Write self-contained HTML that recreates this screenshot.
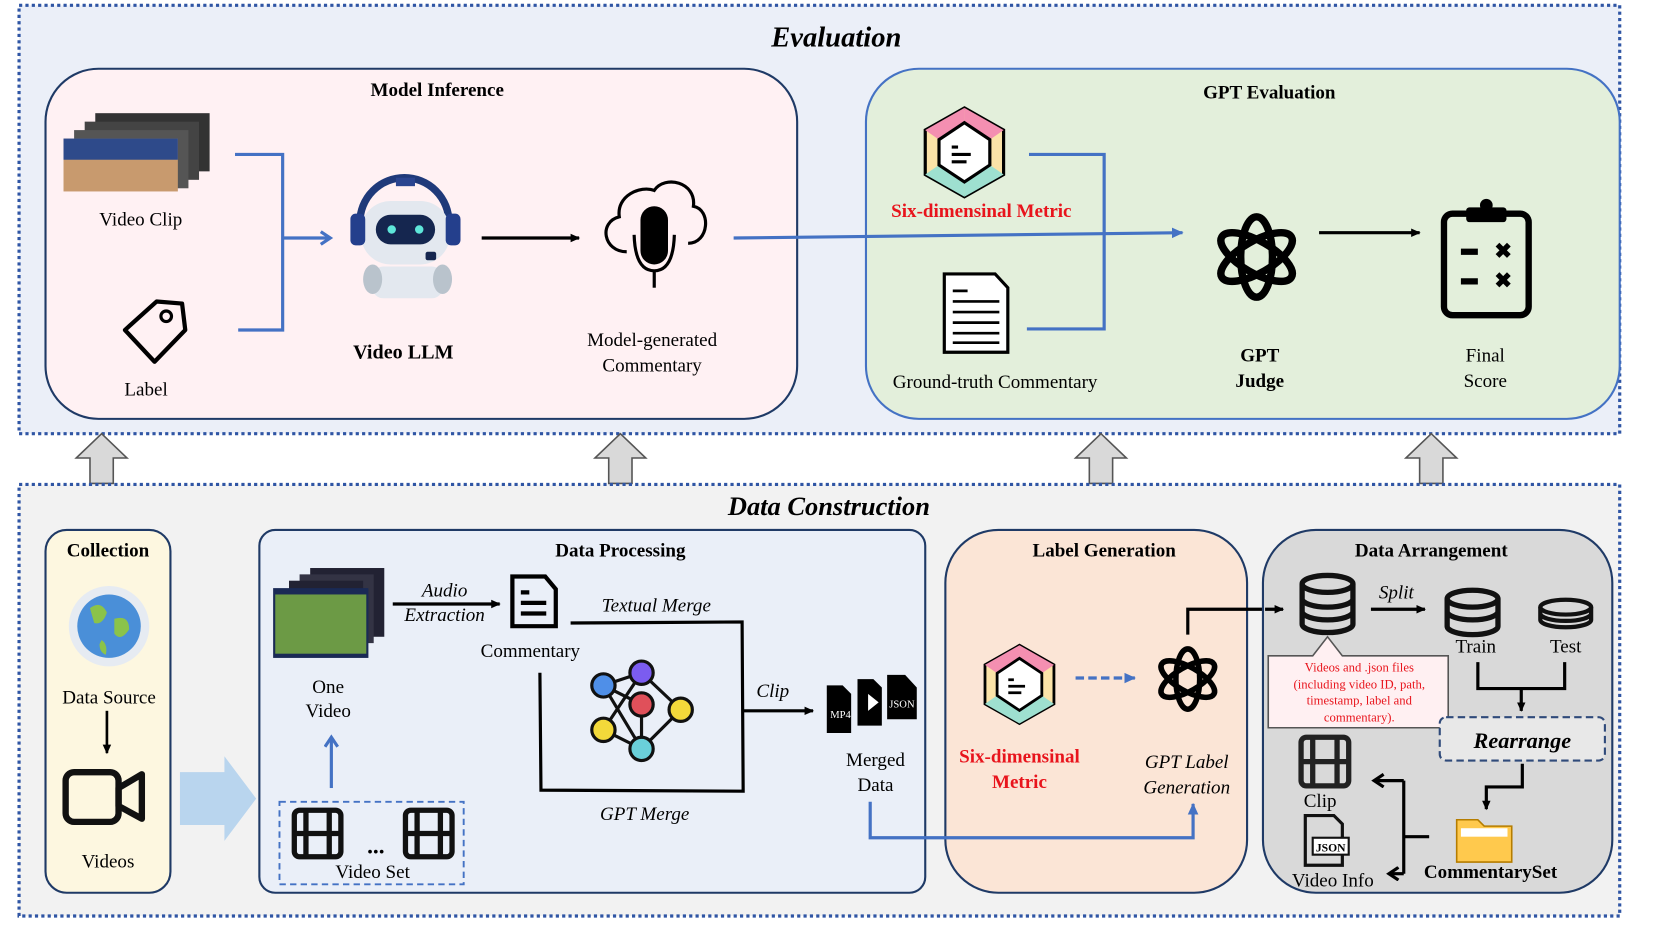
<!DOCTYPE html>
<html><head><meta charset="utf-8"><style>
html,body{margin:0;padding:0;background:#fff;width:1661px;height:934px;overflow:hidden}
svg{display:block}
text{font-family:"Liberation Serif",serif;}
.b{font-weight:bold}
.i{font-style:italic}
</style></head><body>
<svg width="1661" height="934" viewBox="0 0 1569 883" preserveAspectRatio="none" xmlns="http://www.w3.org/2000/svg">
<defs>
<marker id="ak" markerWidth="10" markerHeight="10" refX="8" refY="5" orient="auto" markerUnits="userSpaceOnUse"><path d="M0,1 L9,5 L0,9 Z" fill="#000"/></marker>
<marker id="ab" markerWidth="12" markerHeight="12" refX="10" refY="6" orient="auto" markerUnits="userSpaceOnUse"><path d="M0,1 L11,6 L0,11 Z" fill="#4472c4"/></marker>
<marker id="abo" markerWidth="14" markerHeight="14" refX="10" refY="7" orient="auto" markerUnits="userSpaceOnUse"><path d="M1,1 L10,7 L1,13" fill="none" stroke="#4472c4" stroke-width="3"/></marker>
<marker id="ako" markerWidth="14" markerHeight="14" refX="10" refY="7" orient="auto" markerUnits="userSpaceOnUse"><path d="M1,1 L10,7 L1,13" fill="none" stroke="#000" stroke-width="3"/></marker>
</defs>
<!-- Evaluation -->
<rect x="18" y="5" width="1512" height="405" fill="#ebeff8" stroke="#2f55a4" stroke-width="3" stroke-dasharray="3,3"/>
<text x="790" y="44" font-size="27" class="b i" text-anchor="middle">Evaluation</text>
<rect x="43" y="65" width="710" height="331" rx="50" fill="#fff1f3" stroke="#1f3a66" stroke-width="2"/>
<text x="413" y="91" font-size="18" class="b" text-anchor="middle">Model Inference</text>
<rect x="818" y="65" width="712" height="331" rx="50" fill="#e3efdb" stroke="#4472c4" stroke-width="2"/>
<text x="1199" y="93" font-size="18" class="b" text-anchor="middle">GPT Evaluation</text>
<g>
<rect x="90" y="107" width="108" height="55" fill="#333"/>
<rect x="80" y="115" width="108" height="55" fill="#444"/>
<rect x="70" y="123" width="108" height="55" fill="#555"/>
<rect x="60" y="131" width="108" height="50" fill="#c89a6e"/>
<rect x="60" y="131" width="108" height="20" fill="#2e4a8a"/>
</g>
<text x="133" y="213" font-size="18" text-anchor="middle">Video Clip</text>
<path d="M118,312 L148,285 L172,287 L175,312 L146,342 Z" fill="none" stroke="#000" stroke-width="4" stroke-linejoin="round"/>
<circle cx="157" cy="299" r="5" fill="none" stroke="#000" stroke-width="3"/>
<text x="138" y="374" font-size="18" text-anchor="middle">Label</text>
<path d="M222,146 L267,146 L267,312 L225,312" fill="none" stroke="#4472c4" stroke-width="3"/>
<line x1="267" y1="225" x2="312" y2="225" stroke="#4472c4" stroke-width="3" marker-end="url(#abo)"/>
<path d="M340,210 A42,42 0 0 1 424,210" fill="none" stroke="#1f3a7a" stroke-width="7"/>
<rect x="374" y="168" width="18" height="8" fill="#2a4590"/>
<rect x="341" y="190" width="84" height="60" rx="28" fill="#e3e8ef"/>
<rect x="331" y="202" width="14" height="30" rx="5" fill="#243f8c"/>
<rect x="421" y="202" width="14" height="30" rx="5" fill="#243f8c"/>
<rect x="355" y="203" width="56" height="28" rx="14" fill="#15264f"/>
<circle cx="370" cy="217" r="4" fill="#5ee6d9"/><circle cx="396" cy="217" r="4" fill="#5ee6d9"/>
<rect x="402" y="238" width="10" height="8" rx="2" fill="#15264f"/>
<rect x="352" y="252" width="66" height="30" rx="10" fill="#e3e8ef"/>
<ellipse cx="352" cy="264" rx="9" ry="14" fill="#b9c3cc"/><ellipse cx="418" cy="264" rx="9" ry="14" fill="#b9c3cc"/>
<text x="381" y="339" font-size="19" class="b" text-anchor="middle">Video LLM</text>
<line x1="455" y1="225" x2="547" y2="225" stroke="#000" stroke-width="3" marker-end="url(#ak)"/>
<path d="M592,238 C570,238 565,210 585,205 C582,185 605,175 618,180 C628,165 658,172 655,195 C672,198 670,230 650,230" fill="none" stroke="#000" stroke-width="3"/>
<rect x="605" y="195" width="26" height="55" rx="13" fill="#000"/>
<path d="M599,222 Q600,256 618,256 Q636,256 637,222" fill="none" stroke="#000" stroke-width="3"/>
<line x1="618" y1="256" x2="618" y2="272" stroke="#000" stroke-width="3"/>
<text x="616" y="327" font-size="18" text-anchor="middle">Model-generated</text>
<text x="616" y="351" font-size="18" text-anchor="middle">Commentary</text>
<line x1="693" y1="225" x2="1117" y2="220" stroke="#4472c4" stroke-width="3" marker-end="url(#ab)"/>
<g transform="translate(911,144)">
<polygon points="0,-42 37,-21 37,21 0,42 -37,21 -37,-21" fill="#fbe3a8" stroke="#000" stroke-width="3"/>
<polygon points="0,-42 37,-21 24,-12 0,-28" fill="#f48fb1"/><polygon points="0,42 37,21 24,12 0,28" fill="#9ee0d0"/><polygon points="0,42 -37,21 -24,12 0,28" fill="#9ee0d0"/><polygon points="0,-42 -37,-21 -24,-12 0,-28" fill="#f48fb1"/>
<polygon points="0,-28 24,-12 24,12 0,28 -24,12 -24,-12" fill="#fff" stroke="#000" stroke-width="3"/>
<path d="M-12,-5 h6 M-12,2 h18 M-12,9 h14" stroke="#000" stroke-width="3"/>
</g>
<text x="927" y="205" font-size="18" class="b" fill="#e8141c" text-anchor="middle">Six-dimensinal Metric</text>
<path d="M972,146 L1043,146 L1043,311 L970,311" fill="none" stroke="#4472c4" stroke-width="3"/>
<path d="M892,259 L940,259 L952,272 L952,333 L892,333 Z" fill="#fff" stroke="#000" stroke-width="3"/>
<path d="M900,275 h14 M900,285 h44 M900,295 h44 M900,305 h44 M900,315 h44 M900,324 h44" stroke="#000" stroke-width="2.5"/>
<text x="940" y="367" font-size="18" text-anchor="middle">Ground-truth Commentary</text>
<g transform="translate(1187,243)" fill="none" stroke="#000" stroke-width="7">
<ellipse rx="15" ry="38"/>
<ellipse rx="15" ry="38" transform="rotate(60)"/>
<ellipse rx="15" ry="38" transform="rotate(120)"/>
</g>
<text x="1190" y="342" font-size="18" class="b" text-anchor="middle">GPT</text>
<text x="1190" y="366" font-size="18" class="b" text-anchor="middle">Judge</text>
<line x1="1246" y1="220" x2="1341" y2="220" stroke="#000" stroke-width="3" marker-end="url(#ak)"/>
<rect x="1364" y="202" width="80" height="96" rx="8" fill="none" stroke="#000" stroke-width="6"/>
<rect x="1385" y="196" width="38" height="14" rx="3" fill="#000"/><circle cx="1404" cy="194" r="6" fill="#000"/>
<path d="M1380,238 h16 M1380,266 h16" stroke="#000" stroke-width="6"/>
<text x="1420" y="244" font-size="20" class="b" text-anchor="middle">✖</text>
<text x="1420" y="272" font-size="20" class="b" text-anchor="middle">✖</text>
<text x="1403" y="342" font-size="18" text-anchor="middle">Final</text>
<text x="1403" y="366" font-size="18" text-anchor="middle">Score</text>
<g fill="#d9d9d9" stroke="#555" stroke-width="1.5">
<path d="M85,457 L85,433 L72,433 L96,410 L120,433 L107,433 L107,457 Z"/>
<path d="M575,457 L575,433 L562,433 L586,410 L610,433 L597,433 L597,457 Z"/>
<path d="M1029,457 L1029,433 L1016,433 L1040,410 L1064,433 L1051,433 L1051,457 Z"/>
<path d="M1341,457 L1341,433 L1328,433 L1352,410 L1376,433 L1363,433 L1363,457 Z"/>
</g>
<rect x="18" y="458" width="1512" height="408" fill="#f2f2f2" stroke="#2f55a4" stroke-width="3" stroke-dasharray="3,3"/>
<text x="783" y="487" font-size="25" class="b i" text-anchor="middle">Data Construction</text>
<rect x="43" y="501" width="118" height="343" rx="20" fill="#fdf7e0" stroke="#1f3a66" stroke-width="2"/>
<text x="102" y="526" font-size="18" class="b" text-anchor="middle">Collection</text>
<circle cx="103" cy="592" r="38" fill="#e6ebf2"/>
<circle cx="103" cy="592" r="30" fill="#4a8fd8"/>
<path d="M85,575 q10,-8 16,4 q-4,12 -12,10 z M108,585 q14,-4 14,10 q-8,12 -14,4 z M96,605 q6,4 4,14 q-6,-2 -6,-10z" fill="#8bc34a"/>
<text x="103" y="665" font-size="18" text-anchor="middle">Data Source</text>
<line x1="101" y1="672" x2="101" y2="712" stroke="#000" stroke-width="2.5" marker-end="url(#ak)"/>
<rect x="62" y="730" width="50" height="47" rx="8" fill="none" stroke="#111" stroke-width="6"/>
<path d="M112,745 L134,732 L134,774 L112,762 Z" fill="none" stroke="#111" stroke-width="6" stroke-linejoin="round"/>
<text x="102" y="820" font-size="18" text-anchor="middle">Videos</text>
<path d="M170,730 L212,730 L212,715 L242,755 L212,795 L212,780 L170,780 Z" fill="#b9d5ee"/>
<rect x="245" y="501" width="629" height="343" rx="15" fill="#eaeff8" stroke="#1f3a66" stroke-width="2"/>
<text x="586" y="526" font-size="18" class="b" text-anchor="middle">Data Processing</text>
<g>
<rect x="293" y="537" width="70" height="65" fill="#223"/>
<rect x="283" y="543" width="70" height="65" fill="#334"/>
<rect x="273" y="549" width="70" height="65" fill="#223"/>
<rect x="258" y="556" width="90" height="66" fill="#1a2a55"/>
<rect x="260" y="562" width="86" height="56" fill="#6c9a45"/>
</g>
<text x="310" y="655" font-size="18" text-anchor="middle">One</text>
<text x="310" y="678" font-size="18" text-anchor="middle">Video</text>
<line x1="371" y1="571" x2="472" y2="571" stroke="#000" stroke-width="3" marker-end="url(#ak)"/>
<text x="420" y="564" font-size="18" class="i" text-anchor="middle">Audio</text>
<text x="420" y="587" font-size="18" class="i" text-anchor="middle">Extraction</text>
<path d="M484,545 L515,545 L525,557 L525,592 L484,592 Z" fill="none" stroke="#000" stroke-width="4"/>
<path d="M492,560 h8 M492,570 h24 M492,580 h24" stroke="#000" stroke-width="4"/>
<text x="501" y="621" font-size="18" text-anchor="middle">Commentary</text>
<text x="620" y="578" font-size="18" class="i" text-anchor="middle">Textual Merge</text>
<path d="M539,589 L701,588 L702,748 L511,747 L510,636" fill="none" stroke="#000" stroke-width="3"/>
<g stroke="#111" stroke-width="3">
<path d="M570,648 L606,636 M570,648 L606,666 M570,648 L606,708 M606,636 L643,671 M606,636 L570,690 M606,666 L606,708 M606,708 L643,671 M570,690 L606,708"/>
<circle cx="606" cy="636" r="11" fill="#7b5cf0"/><circle cx="570" cy="648" r="11" fill="#4f8fe8"/><circle cx="606" cy="666" r="11" fill="#e0505a"/><circle cx="643" cy="671" r="11" fill="#f3d93a"/><circle cx="570" cy="690" r="11" fill="#f3d93a"/><circle cx="606" cy="708" r="11" fill="#6ad0da"/>
</g>
<text x="609" y="775" font-size="18" class="i" text-anchor="middle">GPT Merge</text>
<line x1="702" y1="672" x2="768" y2="672" stroke="#000" stroke-width="3" marker-end="url(#ak)"/>
<text x="730" y="659" font-size="18" class="i" text-anchor="middle">Clip</text>
<g fill="#000">
<path d="M781,648 L796,648 L804,656 L804,693 L781,693 Z"/>
<path d="M810,642 L825,642 L833,650 L833,686 L810,686 Z"/>
<path d="M838,638 L855,638 L866,650 L866,680 L838,680 Z"/>
</g>
<text x="794" y="679" font-size="10" fill="#fff" font-family="Liberation Sans" text-anchor="middle">MP4</text>
<path d="M820,656 L830,664 L820,672 Z" fill="#fff"/>
<text x="852" y="669" font-size="10" fill="#fff" font-family="Liberation Sans" text-anchor="middle">JSON</text>
<text x="827" y="724" font-size="18" text-anchor="middle">Merged</text>
<text x="827" y="748" font-size="18" text-anchor="middle">Data</text>
<line x1="313" y1="745" x2="313" y2="697" stroke="#4472c4" stroke-width="3" marker-end="url(#abo)"/>
<rect x="264" y="758" width="174" height="78" fill="none" stroke="#4472c4" stroke-width="1.8" stroke-dasharray="6,4"/>
<g fill="none" stroke="#111" stroke-width="5">
<rect x="278" y="766" width="44" height="44" rx="5"/><rect x="383" y="766" width="44" height="44" rx="5"/>
<path d="M289,766 v44 M311,766 v44 M278,788 h44 M394,766 v44 M416,766 v44 M383,788 h44"/>
</g>
<text x="355" y="807" font-size="22" class="b" text-anchor="middle">...</text>
<text x="352" y="830" font-size="18" text-anchor="middle">Video Set</text>
<rect x="893" y="501" width="285" height="343" rx="50" fill="#fbe5d6" stroke="#1f3a66" stroke-width="2"/>
<text x="1043" y="526" font-size="18" class="b" text-anchor="middle">Label Generation</text>
<g transform="translate(963,647) scale(0.88)">
<polygon points="0,-42 37,-21 37,21 0,42 -37,21 -37,-21" fill="#fbe3a8" stroke="#000" stroke-width="3"/>
<polygon points="0,-42 37,-21 24,-12 0,-28" fill="#f48fb1"/><polygon points="0,42 37,21 24,12 0,28" fill="#9ee0d0"/><polygon points="0,42 -37,21 -24,12 0,28" fill="#9ee0d0"/><polygon points="0,-42 -37,-21 -24,-12 0,-28" fill="#f48fb1"/>
<polygon points="0,-28 24,-12 24,12 0,28 -24,12 -24,-12" fill="#fff" stroke="#000" stroke-width="3"/>
<path d="M-12,-5 h6 M-12,2 h18 M-12,9 h14" stroke="#000" stroke-width="3"/>
</g>
<line x1="1016" y1="641" x2="1072" y2="641" stroke="#4472c4" stroke-width="3" stroke-dasharray="8,4" marker-end="url(#ab)"/>
<g transform="translate(1122,642) scale(0.75)" fill="none" stroke="#000" stroke-width="7">
<ellipse rx="15" ry="38"/><ellipse rx="15" ry="38" transform="rotate(60)"/><ellipse rx="15" ry="38" transform="rotate(120)"/>
</g>
<text x="963" y="721" font-size="18" class="b" fill="#e8141c" text-anchor="middle">Six-dimensinal</text>
<text x="963" y="745" font-size="18" class="b" fill="#e8141c" text-anchor="middle">Metric</text>
<text x="1121" y="726" font-size="18" class="i" text-anchor="middle">GPT Label</text>
<text x="1121" y="750" font-size="18" class="i" text-anchor="middle">Generation</text>
<path d="M822,758 L822,792 L1127,792 L1127,760" fill="none" stroke="#4472c4" stroke-width="3" marker-end="url(#ab)"/>
<path d="M1122,600 L1122,576 L1212,576" fill="none" stroke="#000" stroke-width="3" marker-end="url(#ak)"/>
<rect x="1193" y="501" width="330" height="343" rx="50" fill="#d9d9d9" stroke="#1f3a66" stroke-width="2"/>
<text x="1352" y="526" font-size="18" class="b" text-anchor="middle">Data Arrangement</text>
<line x1="1195" y1="576" x2="1212" y2="576" stroke="#000" stroke-width="3" marker-end="url(#ak)"/>
<g fill="none" stroke="#111" stroke-width="5">
<ellipse cx="1254" cy="552" rx="24" ry="8"/><path d="M1230,552 v38 a24,8 0 0 0 48,0 v-38 M1230,566 a24,8 0 0 0 48,0 M1230,578 a24,8 0 0 0 48,0"/>
<ellipse cx="1391" cy="566" rx="24" ry="8"/><path d="M1367,566 v26 a24,8 0 0 0 48,0 v-26 M1367,578 a24,8 0 0 0 48,0"/>
<ellipse cx="1479" cy="574" rx="24" ry="7" stroke-width="4"/><path d="M1455,574 v12 a24,7 0 0 0 48,0 v-12 M1455,580 a24,7 0 0 0 48,0" stroke-width="4"/>
</g>
<line x1="1295" y1="576" x2="1346" y2="576" stroke="#000" stroke-width="3" marker-end="url(#ak)"/>
<text x="1319" y="566" font-size="18" class="i" text-anchor="middle">Split</text>
<text x="1394" y="617" font-size="18" text-anchor="middle">Train</text>
<text x="1479" y="617" font-size="18" text-anchor="middle">Test</text>
<path d="M1198,620 L1240,620 L1254,602 L1268,620 L1368,620 L1368,688 L1198,688 Z" fill="#fff0f2" stroke="#555" stroke-width="1.5"/>
<g font-size="12" fill="#e8141c" text-anchor="middle">
<text x="1284" y="635">Videos and .json files</text>
<text x="1284" y="651">(including video ID, path,</text>
<text x="1284" y="666">timestamp, label and</text>
<text x="1284" y="682">commentary).</text>
</g>
<path d="M1396,626 L1396,651 L1478,651 L1478,626 M1437,651 L1437,672" fill="none" stroke="#000" stroke-width="3" marker-end="url(#ak)"/>
<rect x="1360" y="678" width="156" height="41" rx="6" fill="#e8e8e8" stroke="#2f4a7a" stroke-width="2" stroke-dasharray="7,4"/>
<text x="1438" y="707" font-size="21" class="b i" text-anchor="middle">Rearrange</text>
<path d="M1438,722 L1438,744 L1404,744 L1404,765" fill="none" stroke="#000" stroke-width="3" marker-end="url(#ak)"/>
<path d="M1376,775 L1396,775 L1402,781 L1428,781 L1428,815 L1376,815 Z" fill="#ffc94d" stroke="#b57d00" stroke-width="1.5"/>
<rect x="1380" y="783" width="44" height="8" fill="#fff"/>
<text x="1408" y="830" font-size="18" class="b" text-anchor="middle">CommentarySet</text>
<g fill="none" stroke="#222" stroke-width="5">
<rect x="1229" y="697" width="45" height="46" rx="5"/><path d="M1240,697 v46 M1263,697 v46 M1229,720 h45"/>
</g>
<text x="1247" y="763" font-size="18" text-anchor="middle">Clip</text>
<path d="M1233,771 L1260,771 L1268,779 L1268,818 L1233,818 Z" fill="none" stroke="#111" stroke-width="3"/>
<rect x="1240" y="792" width="34" height="16" fill="#fff" stroke="#111" stroke-width="2"/>
<text x="1257" y="805" font-size="11" class="b" font-family="Liberation Mono" text-anchor="middle">JSON</text>
<text x="1259" y="838" font-size="18" text-anchor="middle">Video Info</text>
<path d="M1350,791 L1326,791 M1326,738 L1326,826" fill="none" stroke="#000" stroke-width="3"/>
<line x1="1326" y1="738" x2="1298" y2="738" stroke="#000" stroke-width="3" marker-end="url(#ako)"/>
<line x1="1326" y1="826" x2="1312" y2="826" stroke="#000" stroke-width="3" marker-end="url(#ako)"/>
</svg>
</body></html>
